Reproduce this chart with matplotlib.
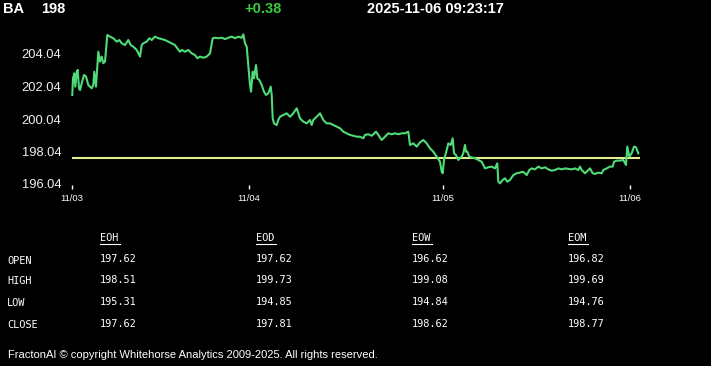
import matplotlib
matplotlib.use("Agg")
import matplotlib.pyplot as plt
from matplotlib.lines import Line2D

# ---------------- data ----------------
symbol = "BA"
last_price = "198"
change = "+0.38"
timestamp = "2025-11-06 09:23:17"
prev_close = 197.62

bars = [0.3, 1, 2.3, 3.3, 4.7, 5.7, 7, 8, 9.7, 12, 14, 16.3, 19.7, 21.3, 22.3, 24,
        26.3, 28, 29.7, 31.3, 33, 35.3, 38, 41.3, 44.7, 47.3, 49.7, 53, 56.3, 58.7,
        61.3, 64.7, 68, 69.7, 71.3, 74.7, 77.3, 79.7, 83, 86.3, 89.7, 93, 96.3, 99.7,
        103, 105.3, 108, 109.7, 113, 116.3, 119.7, 123, 125.3, 128, 131.3, 134.7, 138,
        140.7, 143, 146.3, 149.7, 153, 156.3, 159.7, 163, 166.3, 169.7, 171.3, 173,
        174.7, 176.3, 178, 179, 180.7, 182, 184, 185.3, 187.3, 189.7, 192, 194, 196.3,
        198.7, 199.7, 200.7, 202, 204.7, 206.3, 208, 211.3, 214.7, 218, 221.3, 224.7,
        228, 231.3, 234.7, 238, 239.7, 241.3, 244.7, 248, 251.3, 254.7, 258, 261.3,
        264.7, 268, 271.3, 274.7, 278, 281.3, 284.7, 288, 291.3, 293, 296.3, 299.7,
        304, 306.3, 309.7, 313, 316.3, 319.7, 323, 326.3, 329.7, 333, 336.3, 338,
        341.3, 344.7, 348, 351.3, 354.7, 358, 361.3, 364.7, 368, 369.7, 370.7, 372,
        374.7, 376.3, 378.7, 380.7, 382, 384, 386.3, 388, 389.7, 391.3, 393, 394,
        395.3, 397.3, 399.7, 403, 406.3, 409.7, 413, 416.3, 419.7, 423, 425.3, 426.3,
        428, 430.7, 433, 435.3, 438, 441.3, 444.7, 448, 450.7, 453, 454.7, 457.3,
        459.7, 463, 466.3, 469.7, 473, 476.3, 479.7, 483, 486.3, 489.7, 493, 496.3,
        499.7, 503, 506.3, 508, 509.7, 513, 516.3, 518, 520.7, 523, 526.3, 529.7,
        531.3, 534.7, 538, 540.7, 542, 544.7, 548, 551.3, 554, 555.3, 557.3, 559.7,
        562, 564, 566.3]

prices = [201.52, 202.54, 202.85, 202.03, 202.95, 203.06, 201.93, 201.82, 202.24, 202.75,
          202.65, 202.13, 201.93, 202.13, 202.95, 202.03, 204.18, 203.57, 203.88, 203.47,
          203.57, 205.21, 205.11, 205.01, 204.80, 204.90, 204.70, 204.59, 204.90, 204.59,
          204.49, 204.29, 203.88, 204.59, 204.70, 204.80, 205.01, 204.90, 205.11, 205.01,
          204.96, 204.90, 204.80, 204.70, 204.59, 204.39, 204.18, 204.29, 204.18, 204.29,
          204.08, 203.98, 203.78, 203.88, 203.81, 203.88, 204.08, 205.01, 205.04, 205.01,
          205.04, 204.96, 205.04, 205.11, 205.01, 205.11, 205.04, 205.25, 204.70, 204.49,
          203.36, 202.13, 201.72, 202.95, 202.54, 203.36, 202.54, 202.44, 202.13, 201.72,
          201.52, 201.62, 202.03, 201.52, 200.08, 199.77, 199.67, 199.98, 200.18, 200.29,
          200.39, 200.18, 200.39, 200.70, 200.08, 199.88, 199.77, 199.98, 199.67, 199.98,
          200.18, 200.39, 199.98, 199.77, 199.77, 199.67, 199.57, 199.47, 199.26, 199.16,
          199.06, 199.01, 198.95, 198.95, 198.85, 199.06, 199.10, 199.01, 199.26, 199.06,
          198.75, 198.95, 199.16, 199.10, 199.16, 199.10, 199.16, 199.16, 199.26, 198.44,
          198.54, 198.34, 198.60, 198.75, 198.54, 198.23, 198.03, 197.72, 197.41, 196.80,
          196.70, 197.52, 198.13, 198.54, 198.44, 198.85, 197.93, 197.82, 197.52, 197.62,
          197.72, 197.93, 198.44, 198.03, 198.03, 197.72, 197.68, 197.62, 197.52, 197.41,
          197.00, 197.07, 197.11, 197.00, 197.31, 196.18, 196.08, 196.29, 196.39, 196.18,
          196.29, 196.59, 196.70, 196.74, 196.80, 196.70, 196.59, 196.90, 197.00, 196.94,
          197.11, 197.00, 197.07, 196.94, 196.86, 196.90, 197.00, 196.94, 197.00, 196.97,
          196.94, 197.00, 196.90, 197.11, 196.90, 196.70, 196.90, 197.00, 196.70, 196.66,
          196.74, 196.70, 196.90, 197.00, 197.11, 197.11, 197.41, 197.48, 197.48, 197.52,
          197.21, 198.34, 197.72, 197.93, 198.34, 198.30, 197.93]

day_start_bars = [0, 177, 371, 558]
day_labels = ["11/03", "11/04", "11/05", "11/06"]
y_ticks = [196.04, 198.04, 200.04, 202.04, 204.04]

table_cols = ["EOH", "EOD", "EOW", "EOM"]
table_rows = ["OPEN", "HIGH", "LOW", "CLOSE"]
eoh = [197.62, 198.51, 195.31, 197.62]
eod = [197.62, 199.73, 194.85, 197.81]
eow = [196.62, 199.08, 194.84, 198.62]
eom = [196.82, 199.69, 194.76, 198.77]
table_vals = [eoh, eod, eow, eom]

footer = "FractonAI \u00a9 copyright Whitehorse Analytics 2009-2025. All rights reserved."

# ---------------- figure ----------------
W, H = 711, 366
fig = plt.figure(figsize=(W / 100, H / 100), dpi=100, facecolor="black")

def fx(px):
    return px / W

def fy(py):
    return 1 - py / H

# axes: px 64 .. 645 horizontally, py 30 .. 185 vertically
ax_l, ax_r, ax_t, ax_b = 64, 645, 30, 185
ax = fig.add_axes([fx(ax_l), fy(ax_b), fx(ax_r - ax_l), (ax_b - ax_t) / H])
ax.set_facecolor("black")
ppu = 16.25  # pixels per price unit
y0_px = 184  # pixel row of 196.04
ax.set_ylim(196.04 - (ax_b - y0_px) / ppu, 196.04 + (y0_px - ax_t) / ppu)
x0_px = 72  # pixel column of bar 0
ax.set_xlim(-(x0_px - ax_l), (ax_r - x0_px))

ax.plot(bars, prices, color="#4fdc78", lw=1.5, solid_joinstyle="round", zorder=3)
ax.hlines(prev_close, day_start_bars[0], bars[-1] + 1.5, color="#e4ee8e", lw=1.5, zorder=2)

for s in ax.spines.values():
    s.set_visible(False)

ax.set_yticks(y_ticks)
ax.set_yticklabels([f"{v:.2f}" for v in y_ticks])
ax.tick_params(axis="y", length=0, pad=2, labelsize=9.3, labelcolor="#f0f0f0")
for t in ax.get_yticklabels():
    t.set_family("Liberation Sans")

ax.set_xticks(day_start_bars)
ax.set_xticklabels(day_labels)
ax.tick_params(axis="x", length=3.2, width=1, color="white", direction="out", pad=3,
               labelsize=6.8, labelcolor="white")
for t in ax.get_xticklabels():
    t.set_family("Liberation Sans")

# ---------------- header ----------------
hdr = dict(fontsize=10.5, fontweight="bold", family="Liberation Sans", va="center", ha="left")
fig.text(fx(3), fy(9), symbol, color="white", **hdr)
fig.text(fx(41), fy(9), last_price, color="white", **hdr)
fig.text(fx(244), fy(9), change, color="#3ccc3c", **hdr)
fig.text(fx(367), fy(9), timestamp, color="white", **hdr)

# ---------------- table ----------------
mono = dict(family="DejaVu Sans Mono", fontsize=7.4, color="white", va="center", ha="left")
col_x = [100, 256, 412, 568]
row_y = [259, 280, 302, 324]
char_w = 7.4 * 0.602 * 100 / 72
for cx, name in zip(col_x, table_cols):
    fig.text(fx(cx), fy(238), name, **mono)
    fig.add_artist(Line2D([fx(cx), fx(cx + len(name) * char_w + 1)], [fy(243.5), fy(243.5)],
                          color="white", lw=0.8, transform=fig.transFigure))
for ry, rname in zip(row_y, table_rows):
    fig.text(fx(7), fy(ry + 1.5), rname, **mono)
for cx, vals in zip(col_x, table_vals):
    for ry, v in zip(row_y, vals):
        fig.text(fx(cx), fy(ry), f"{v:.2f}", **mono)

# ---------------- footer ----------------
fig.text(fx(8), fy(355), footer, color="white", fontsize=8.0, family="Liberation Sans",
         va="center", ha="left")

fig.savefig("out.png", dpi=100, facecolor="black")
